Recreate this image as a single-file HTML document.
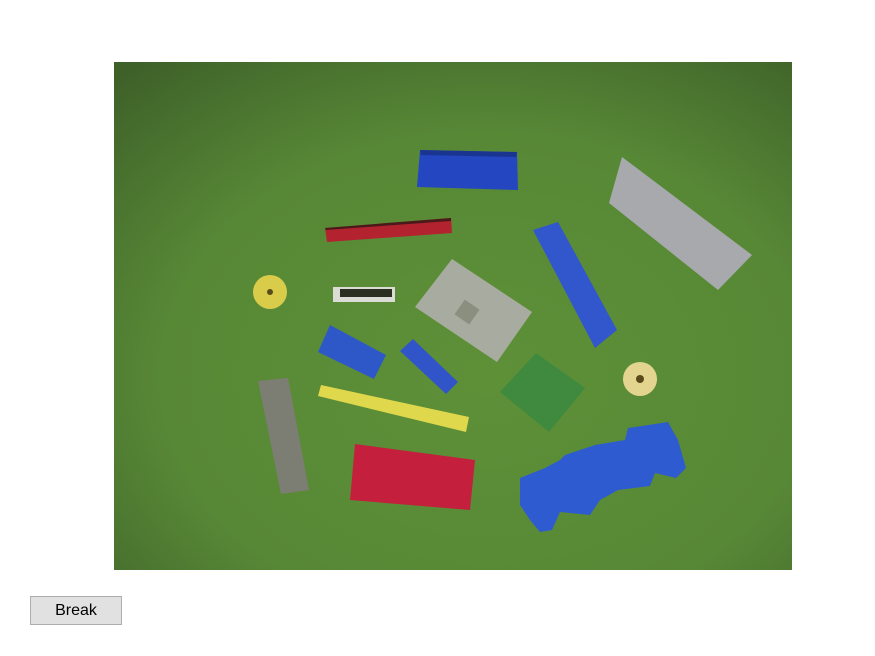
<!DOCTYPE html>
<html><head><meta charset="utf-8"><style>
html,body{margin:0;padding:0;background:#fff;width:875px;height:656px;overflow:hidden;font-family:"Liberation Sans",sans-serif}
#photo{position:absolute;left:114px;top:62px;width:678px;height:508px}
#btn{position:absolute;left:30px;top:596px;width:92px;height:29px;box-sizing:border-box;border:1px solid #adadad;background:#e1e1e1;font-size:16px;color:#000;text-align:center;line-height:27px;padding:0}
</style></head><body>
<svg id="photo" viewBox="114 62 678 508" width="678" height="508">
<defs>
<radialGradient id="bg" cx="0.55" cy="0.62" r="0.8">
<stop offset="0" stop-color="#5e9038"/><stop offset="0.6" stop-color="#578836"/><stop offset="1" stop-color="#3e6129"/>
</radialGradient>
</defs>
<rect x="114" y="62" width="678" height="508" fill="url(#bg)"/>
<g><polygon points="420,150 517,152 518,190 417,187" fill="#2446c0"/><polygon points="420,150 517,152 516,157 421,155" fill="#1a3590"/></g>
<g><polygon points="325,228 451,218 452,233 327,242" fill="#b3222f"/><polygon points="325,228 451,218 451,221 326,230" fill="#4a1a1a"/></g>
<polygon points="622,157 752,255 718,290 609,203" fill="#a7a9ad"/>
<polygon points="533,230 558,222 617,330 595,348" fill="#3256cc"/>
<polygon points="415,307 452,259 532,312 497,362" fill="#a8aca0"/>
<rect x="458" y="303" width="18" height="18" fill="#8b8f80" transform="rotate(35 467 312)"/>
<circle cx="270" cy="292" r="17" fill="#d9cc4a"/>
<circle cx="270" cy="292" r="3" fill="#5a4a1a"/>
<g><rect x="333" y="287" width="62" height="15" fill="#dcdcd6"/><rect x="340" y="289" width="52" height="8" fill="#2a2f22"/></g>
<polygon points="318,352 330,325 386,355 374,379" fill="#2e58c8"/>
<polygon points="400,351 413,339 458,382 446,394" fill="#3155c8"/>
<polygon points="500,392 536,353 585,388 549,432" fill="#3f8a3e"/>
<circle cx="640" cy="379" r="17" fill="#e3d490"/>
<circle cx="640" cy="379" r="4" fill="#5a4a1a"/>
<polygon points="258,381 288,378 309,490 281,494" fill="#7c7e74"/>
<polygon points="318,396 321,385 469,417 466,432" fill="#e0d84c"/>
<polygon points="355,444 475,460 470,510 350,500" fill="#c41f3c"/>
<polygon points="520,478 545,468 560,460 565,455 595,445 625,440 628,428 655,424 668,422 678,440 686,468 676,478 655,473 650,486 618,490 600,500 590,515 560,512 552,530 540,532 530,520 520,505" fill="#2f5bd0"/>
</svg>
<button id="btn">Break</button>
</body></html>
